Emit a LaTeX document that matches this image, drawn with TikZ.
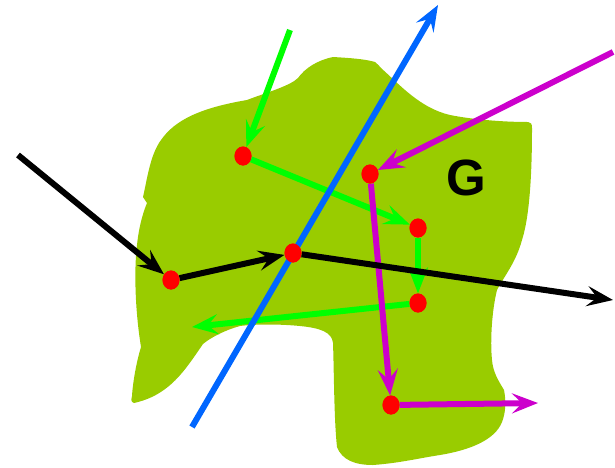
\documentclass[tikz,border=0pt]{standalone}
\usepackage{fontspec}
\newfontfamily\gfont{Liberation Sans}
\usetikzlibrary{arrows.meta,shapes.geometric}
\definecolor{blob}{RGB}{153,204,0}
\definecolor{grn}{RGB}{0,255,0}
\definecolor{blu}{RGB}{0,102,255}
\definecolor{mag}{RGB}{204,0,204}
\tikzset{
  dot/.style={ellipse,fill=red,minimum width=17pt,minimum height=19pt,inner sep=0pt},
  ray/.style={line width=6pt,-{Stealth[length=26pt,width=20pt,inset=10pt]}},
}
\begin{document}
\begin{tikzpicture}[x=1pt,y=-1pt]
\useasboundingbox (0,0) rectangle (615,467);
% blob
\fill[blob] (333,57) .. controls (350,58) and (365,59) .. (375,62)
  .. controls (378,64) and (379,66) .. (381,68)
  .. controls (400,85) and (420,108) .. (450,115)
  .. controls (470,119) and (500,122) .. (528,122)
  .. controls (531,122) and (532,124) .. (532,128)
  .. controls (532,170) and (530,215) .. (522,240)
  .. controls (516,262) and (505,275) .. (497,290)
  .. controls (492,310) and (490,340) .. (492,360)
  .. controls (493,372) and (498,380) .. (504,390)
  .. controls (506,400) and (506,412) .. (502,422)
  .. controls (495,440) and (470,450) .. (440,455)
  .. controls (420,458) and (400,463) .. (373,465)
  .. controls (355,465) and (342,460) .. (337,447)
  .. controls (334,420) and (334,370) .. (333,343)
  .. controls (332,332) and (320,328) .. (300,326)
  .. controls (280,324) and (255,324) .. (240,326)
  .. controls (225,330) and (210,338) .. (203,344)
  .. controls (185,370) and (170,395) .. (134,403)
  .. controls (131,402) and (131,400) .. (132,396)
  .. controls (133,380) and (137,360) .. (141,347)
  .. controls (135,310) and (134,270) .. (137,245)
  .. controls (139,225) and (144,210) .. (147,203)
  -- (143,197)
  .. controls (147,180) and (150,155) .. (161,140)
  .. controls (175,120) and (200,108) .. (247,100)
  .. controls (265,93) and (290,86) .. (298,78)
  .. controls (305,68) and (318,60) .. (333,57) -- cycle;
% points
\node[dot] (p1) at (243,156) {};
\node[dot] (p2) at (370,174) {};
\node[dot] (p3) at (418,228) {};
\node[dot] (p4) at (171,280) {};
\node[dot] (p5) at (293,253) {};
\node[dot] (p6) at (418,303) {};
\node[dot] (p7) at (391,405) {};
\coordinate (gs) at (290,30);
\coordinate (ge) at (192,327);
\coordinate (bs) at (192,427);
\coordinate (be) at (438,5);
\coordinate (ms) at (613,52);
\coordinate (me) at (538,403);
\coordinate (ks) at (18,155);
\coordinate (ke) at (613,300);
% green
\draw[ray,grn] (gs) -- (p1);
\draw[ray,grn] (p1) -- (p3);
\draw[ray,grn] (p3) -- (p6);
\draw[ray,grn] (p6) -- (ge);
% magenta
\draw[ray,mag] (ms) -- (p2);
\draw[ray,mag] (p2) -- (p7);
\draw[ray,mag] (p7) -- (me);
% blue
\draw[ray,blu] (bs) -- (be);
% black
\draw[ray,black] (ks) -- (p4);
\draw[ray,black] (p4) -- (p5);
\draw[ray,black] (p5) -- (ke);
% dots on top
\foreach \p in {p1,p2,p3,p4,p5,p6,p7} \fill[red] (\p) ellipse (8.5pt and 9.5pt);
\node[anchor=base] (g) at (466,195) {\gfont\bfseries\fontsize{51}{51}\selectfont G};
\end{tikzpicture}
\end{document}
